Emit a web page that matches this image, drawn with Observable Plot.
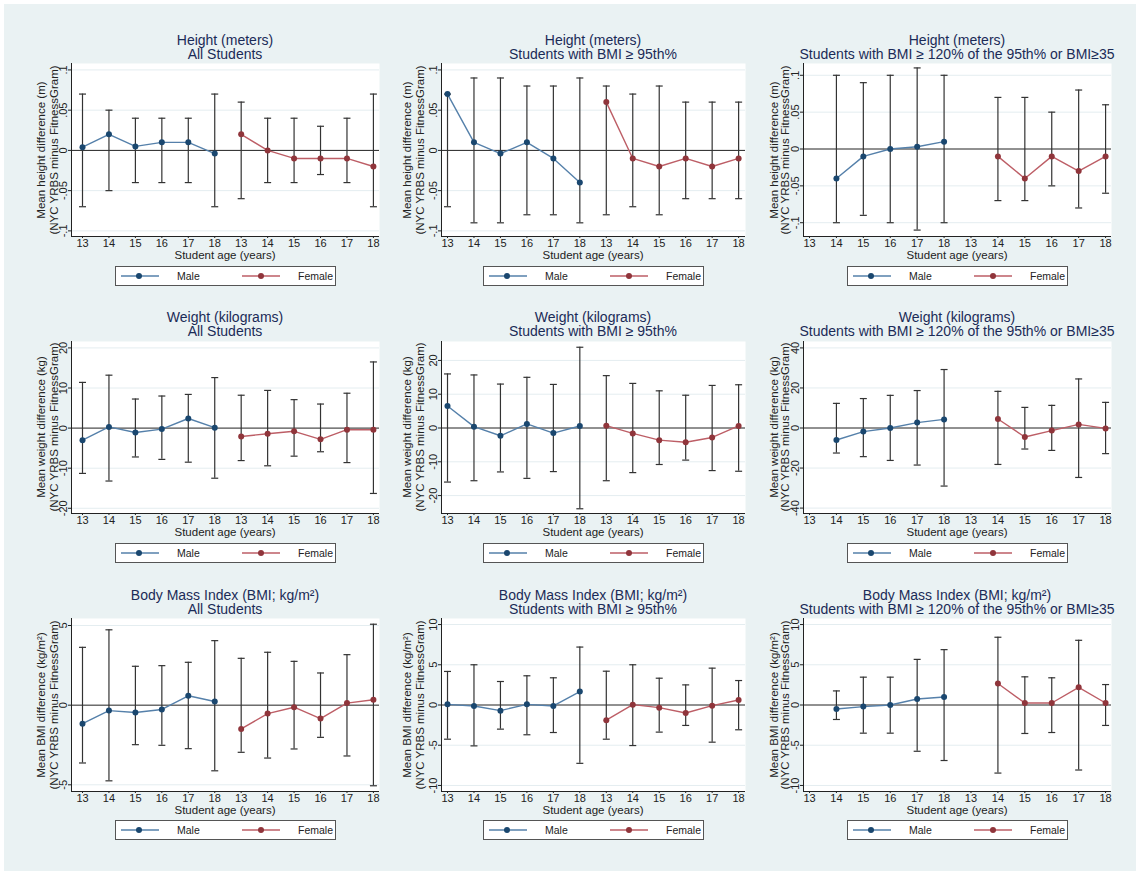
<!DOCTYPE html>
<html><head><meta charset="utf-8">
<script src="https://cdn.jsdelivr.net/npm/d3@7"></script>
<script src="https://cdn.jsdelivr.net/npm/@observablehq/plot@0.6"></script>
<style>
body{margin:0;background:#fff;font-family:"Liberation Sans",Arial,Helvetica,sans-serif;width:1136px;height:871px;overflow:hidden;}
#fig{position:absolute;left:4px;top:4px;width:1132px;height:867px;background:#eaf2f3;}
.abs{position:absolute;white-space:nowrap;}
.title{color:#1b2b57;font-size:14px;line-height:14px;text-align:center;transform:translateX(-50%);}
.xt{color:#222;font-size:11.5px;line-height:13px;text-align:center;transform:translateX(-50%);}
.yt{color:#222;font-size:11.5px;text-align:center;transform:translate(-50%,-50%) rotate(-90deg);}
.leg{background:#fff;border:1px solid #555;box-sizing:border-box;width:221px;height:20px;}
.leg svg{display:block;}
</style>
</head><body>
<div id="fig"></div>
<script>
// ---------- data ----------
const xLabels = ["13","14","15","16","17","18","13","14","15","16","17","18"];
const sexes = ["Male","Female"];

const rowTitles = ["Height (meters)", "Weight (kilograms)", "Body Mass Index (BMI; kg/m²)"];
const colTitles = ["All Students", "Students with BMI ≥ 95th%", "Students with BMI ≥ 120% of the 95th% or BMI≥35"];
const yTitles = ["Mean height difference (m)", "Mean weight difference (kg)", "Mean BMI difference (kg/m²)"];
const yTitle2 = "(NYC YRBS minus FitnessGram)";
const xTitle = "Student age (years)";

// order in each array: Male 13..18, Female 13..18
const heightAllMean = [0.004, 0.02, 0.005, 0.01, 0.01, -0.004, 0.02, 0, -0.01, -0.01, -0.01, -0.02];
const heightAllLo   = [-0.07,-0.05,-0.04,-0.04,-0.04,-0.07,-0.06,-0.04,-0.04,-0.03,-0.04,-0.07];
const heightAllHi   = [0.07,0.05,0.04,0.04,0.04,0.07,0.06,0.04,0.04,0.03,0.04,0.07];

const heightObMean = [0.07,0.01,-0.004,0.01,-0.01,-0.04,0.06,-0.01,-0.02,-0.01,-0.02,-0.01];
const heightObLo   = [-0.07,-0.09,-0.09,-0.08,-0.08,-0.09,-0.08,-0.07,-0.08,-0.06,-0.06,-0.06];
const heightObHi   = [0.07,0.09,0.09,0.08,0.08,0.09,0.08,0.07,0.08,0.06,0.06,0.06];

const heightSevMean = [null,-0.04,-0.01,0,0.003,0.01,null,-0.01,-0.04,-0.01,-0.03,-0.01];
const heightSevLo   = [null,-0.1,-0.09,-0.1,-0.11,-0.1,null,-0.07,-0.07,-0.05,-0.08,-0.06];
const heightSevHi   = [null,0.1,0.09,0.1,0.11,0.1,null,0.07,0.07,0.05,0.08,0.06];

const weightAllMean = [-3,0.3,-1.1,-0.25,2.4,0.1,-2.1,-1.4,-0.8,-2.8,-0.4,-0.4];
const weightAllLo   = [-11.3,-13.2,-7.2,-7.8,-8.5,-12.5,-8.1,-9.4,-7,-5.9,-8.6,-16.3];
const weightAllHi   = [11.4,13.2,7.25,8,8.4,12.6,8.2,9.4,7.1,6,8.7,16.5];

const weightObMean = [6.5,0.4,-2.3,1.2,-1.5,0.6,0.7,-1.6,-3.6,-4.2,-2.8,0.6];
const weightObLo   = [-16,-15.6,-13,-14.9,-12.9,-23.9,-15.6,-13.2,-10.8,-9.5,-12.6,-12.8];
const weightObHi   = [16,15.7,13,15,12.9,23.9,15.5,13.2,11,9.7,12.6,12.8];

const weightSevMean = [null,-6,-1.8,0,2.7,4.3,null,4.5,-4.5,-1.3,1.8,-0.2];
const weightSevLo   = [null,-12.5,-14.3,-16.2,-18.5,-29,null,-18.2,-10.5,-11.2,-24.7,-12.8];
const weightSevHi   = [null,12.3,14.7,16.3,18.7,29.2,null,18.3,10.3,11.3,24.5,12.8];

const bmiAllMean = [-1.16,-0.34,-0.46,-0.27,0.59,0.23,-1.49,-0.53,-0.13,-0.84,0.13,0.34];
const bmiAllLo   = [-3.63,-4.75,-2.48,-2.52,-2.73,-4.12,-2.96,-3.32,-2.75,-2.02,-3.19,-5.06];
const bmiAllHi   = [3.63,4.73,2.44,2.48,2.69,4.05,2.94,3.32,2.75,2.02,3.17,5.08];

const bmiObMean = [0.08,-0.12,-0.7,0.08,-0.12,1.67,-1.88,0.04,-0.33,-1,-0.08,0.62];
const bmiObLo   = [-4.25,-5.08,-3,-3.7,-3.42,-7.25,-4.25,-5.04,-3.37,-2.54,-4.62,-3.08];
const bmiObHi   = [4.17,5,2.92,3.63,3.38,7.2,4.2,5,3.33,2.5,4.58,3.04];

const bmiSevMean = [null,-0.5,-0.2,0,0.75,1,null,2.67,0.25,0.25,2.2,0.25];
const bmiSevLo   = [null,-1.8,-3.5,-3.5,-5.75,-6.9,null,-8.46,-3.54,-3.42,-8.08,-2.54];
const bmiSevHi   = [null,1.75,3.46,3.46,5.67,6.88,null,8.42,3.5,3.38,8.04,2.54];

const heightTicks = [-0.1,-0.05,0,0.05,0.1];
const weightTicks = [-20,-10,0,10,20];
const weightSevTicks = [-40,-20,0,20,40];
const bmiAllTicks = [-5,0,5];
const bmiTicks = [-10,-5,0,5,10];

// ---------- layout / style ----------
const cols = [
  {left:71, right:379, xdom:[0.584,12.23], yt:47.5, ylh:13},
  {left:441, right:745, xdom:[0.773,12.26], yt:413.5, ylh:13},
  {left:803, right:1111, xdom:[0.777,12.22], yt:779.5, ylh:11}
];
const rows = [
  {top:63, bottom:236, title:32.5, xt:249, leg:266},
  {top:341, bottom:513, title:310, xt:526, leg:543},
  {top:618, bottom:791, title:587.5, xt:804, leg:820}
];
const panels = [
  [ {mean:heightAllMean, lo:heightAllLo, hi:heightAllHi, ticks:heightTicks, ydom:[-0.107,0.108]},
    {mean:heightObMean, lo:heightObLo, hi:heightObHi, ticks:heightTicks, ydom:[-0.107,0.108]},
    {mean:heightSevMean, lo:heightSevLo, hi:heightSevHi, ticks:heightTicks, ydom:[-0.1187,0.116]} ],
  [ {mean:weightAllMean, lo:weightAllLo, hi:weightAllHi, ticks:weightTicks, ydom:[-21.3,21.6]},
    {mean:weightObMean, lo:weightObLo, hi:weightObHi, ticks:weightTicks, ydom:[-25.3,25.6]},
    {mean:weightSevMean, lo:weightSevLo, hi:weightSevHi, ticks:weightSevTicks, ydom:[-42.7,43.2]} ],
  [ {mean:bmiAllMean, lo:bmiAllLo, hi:bmiAllHi, ticks:bmiAllTicks, ydom:[-5.42,5.44]},
    {mean:bmiObMean, lo:bmiObLo, hi:bmiObHi, ticks:bmiTicks, ydom:[-10.75,10.75]},
    {mean:bmiSevMean, lo:bmiSevLo, hi:bmiSevHi, ticks:bmiTicks, ydom:[-10.75,10.75]} ]
];

const maleDot = "#1a476f", maleLine = "#5580aa";
const femDot = "#90353b", femLine = "#bd5e66";
const barColor = "#333";
const gridColor = "#e4edf0";
const font = '"Liberation Sans", Arial, Helvetica, sans-serif';

const capSymbol = {draw(ctx, size){ const r = Math.sqrt(size/Math.PI); ctx.moveTo(-r,0); ctx.lineTo(r,0); }};
const fmt = d => d === 0 ? "0" : String(d).replace(/^(-?)0\./, "$1.");

function addDiv(cls, html, left, top, extra) {
  const d = document.createElement("div");
  d.className = "abs " + cls;
  d.innerHTML = html;
  d.style.left = left + "px";
  d.style.top = top + "px";
  if (extra) Object.assign(d.style, extra);
  document.body.appendChild(d);
  return d;
}

function legend(left, top) {
  const box = addDiv("leg", "", left, top);
  const svg = d3.select(box).append("svg").attr("width", 219).attr("height", 18);
  const items = [
    {x0:5, x1:43, dot:23, tx:61, line:maleLine, fill:maleDot, label:sexes[0]},
    {x0:126, x1:164, dot:145, tx:182, line:femLine, fill:femDot, label:sexes[1]}
  ];
  for (const it of items) {
    svg.append("line").attr("x1", it.x0).attr("x2", it.x1).attr("y1", 9).attr("y2", 9)
      .attr("stroke", it.line).attr("stroke-width", 1.4);
    svg.append("circle").attr("cx", it.dot).attr("cy", 9).attr("r", 3).attr("fill", it.fill);
    svg.append("text").attr("x", it.tx).attr("y", 13).attr("font-size", 10.5)
      .attr("font-family", font).attr("fill", "#222").text(it.label);
  }
}

rows.forEach((row, ri) => {
  cols.forEach((col, ci) => {
    const p = panels[ri][ci];
    const mL = 22, mR = 2, mT = 2, mB = 18;
    const w = col.right - col.left, h = row.bottom - row.top;
    const data = p.mean.map((m, i) => ({
      i: i + 1, sex: i < 6 ? sexes[0] : sexes[1], mean: m, lo: p.lo[i], hi: p.hi[i]
    })).filter(d => d.mean != null);
    const male = data.filter(d => d.sex === sexes[0]);
    const fem = data.filter(d => d.sex === sexes[1]);
    const chart = Plot.plot({
      width: w + mL + mR, height: h + mT + mB,
      marginLeft: mL, marginRight: mR, marginTop: mT, marginBottom: mB,
      style: {background: "transparent", fontFamily: font, fontSize: "11px", color: "#222", overflow: "visible"},
      x: {domain: col.xdom, axis: null},
      y: {domain: p.ydom, axis: null},
      marks: [
        Plot.frame({fill: "white", stroke: null}),
        Plot.ruleY(p.ticks.filter(t => t !== 0), {stroke: gridColor, strokeWidth: 1}),
        Plot.ruleY([0], {stroke: "#222", strokeWidth: 1}),
        Plot.ruleX(data, {x: "i", y1: "lo", y2: "hi", stroke: barColor, strokeWidth: 1.2}),
        Plot.dot(data, {x: "i", y: "lo", symbol: capSymbol, r: 3.5, stroke: barColor, fill: "none", strokeWidth: 1.2}),
        Plot.dot(data, {x: "i", y: "hi", symbol: capSymbol, r: 3.5, stroke: barColor, fill: "none", strokeWidth: 1.2}),
        Plot.line(male, {x: "i", y: "mean", stroke: maleLine, strokeWidth: 1.4}),
        Plot.line(fem, {x: "i", y: "mean", stroke: femLine, strokeWidth: 1.4}),
        Plot.dot(male, {x: "i", y: "mean", fill: maleDot, r: 3}),
        Plot.dot(fem, {x: "i", y: "mean", fill: femDot, r: 3}),
        Plot.axisY({ticks: p.ticks, tickRotate: -90, tickSize: 3, tickPadding: 2, textAnchor: "middle", lineAnchor: "bottom",
          tickFormat: fmt, label: null, stroke: "#222", fill: "#222"}),
        Plot.axisX({ticks: d3.range(1, 13), tickSize: 2, tickPadding: 1, tickFormat: i => xLabels[i - 1], label: null, stroke: "#222", fill: "#222"}),
        Plot.ruleX([col.xdom[0]], {stroke: "#222", strokeWidth: 1}),
        Plot.ruleY([p.ydom[0]], {stroke: "#222", strokeWidth: 1})
      ]
    });
    chart.style.position = "absolute";
    chart.style.left = (col.left - mL) + "px";
    chart.style.top = (row.top - mT) + "px";
    document.body.appendChild(chart);

    const cx = (col.left + col.right) / 2;
    addDiv("title", rowTitles[ri] + "<br>" + colTitles[ci], cx, row.title);
    addDiv("xt", xTitle, cx, row.xt);
    addDiv("yt", yTitles[ri] + "<br>" + yTitle2, col.yt, (row.top + row.bottom) / 2,
      {width: h + "px", lineHeight: col.ylh + "px"});
    legend(cx - 110.5, row.leg);
  });
});
</script>
</body></html>
